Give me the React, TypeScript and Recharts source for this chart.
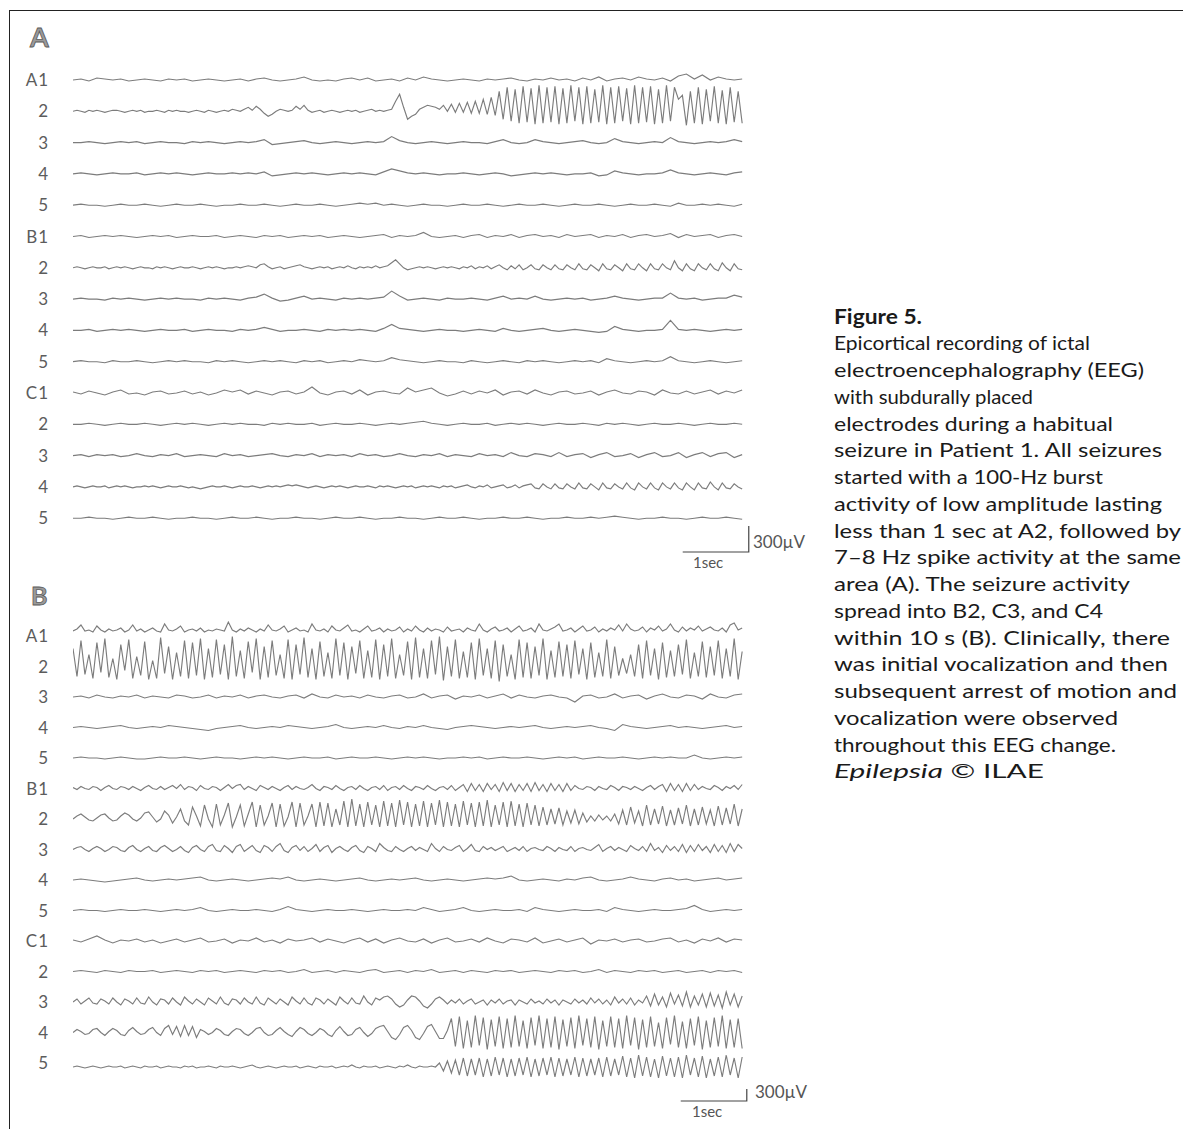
import { LineChart, Line, XAxis, YAxis } from "recharts";

// seconds of record shown per trace; x axis runs a little past it for the scale bar
const DURATION = 10.13;
const X_MAX = 10.4;

const CHANNELS = ["A1", "2", "3", "4", "5", "B1", "2", "3", "4", "5", "C1", "2", "3", "4", "5"];

// Panel A deflections, display units (26 u = 300 µV), positive = up
const A_A1 = [0,1,-1,2,1,0,1,-1,0,1,0,-1,1,0,1,-1,0,1,0,-1,0,1,-1,1,2,0,-1,0,1,3,0,-1,0,-1,1,2,0,2,-1,0,1,-1,2,0,3,1,0,-1,0,1,0,-1,1,0,1,2,0,-1,1,0,2,0,1,-1,2,0,3,-1,1,2,0,3,1,0,2,-1,4,6,1,5,0,3,1,0,1];
const A_A2 = [
  0,1,0,-1,1,0,1,0,-1,0,1,1,0,-1,0,1,0,1,-1,0,0,1,0,-1,1,0,1,0,0,-1,0,1,0,-1,1,0,-1,0,1,0,2,1,0,2,
  4,1,5,2,-2,-5,-3,0,2,1,0,1,
  5,2,6,1,-1,
  0,1,-1,0,1,0,-1,0,1,0,1,-1,0,1,2,0,1,0,1,2,
  10,17,4,-8,-5,-3,
  2,4,6,5,4,2,
  6,0,7,-1,8,-1,9,-2,10,-2,12,-3,14,-4,
  20,-8,24,-10,22,-12,25,-11,23,-13,26,-12,24,-11,25,-13,23,-12,26,-10,24,-13,25,-12,22,-11,26,-13,24,-12,25,-10,23,-13,26,-12,24,-11,25,-13,22,-12,26,-10,24,
  12,16,-14,20,-12,24,-13,22,-10,25,-12,21,-13,24,-11,20,-12,
];
const A_A3 = [0,0,1,0,-1,0,1,0,1,-1,0,1,0,0,-1,1,0,1,0,-1,0,1,0,1,3,-2,-1,0,1,2,0,-1,0,1,0,-1,0,1,0,1,6,2,0,-1,0,1,0,-1,0,1,0,0,-1,1,3,0,-1,0,3,1,0,-1,0,1,2,0,-1,0,4,1,0,-1,0,1,0,5,1,0,-1,0,1,0,1,3,1];
const A_A4 = [0,1,0,-1,0,1,0,0,1,-1,0,1,0,1,0,-1,0,1,0,0,1,0,1,0,2,-2,-1,0,1,0,1,0,-1,0,1,0,1,0,-1,2,5,3,1,0,1,0,-1,0,0,1,0,-1,0,1,0,-2,-1,0,1,0,1,0,-1,0,0,1,-2,-1,3,1,0,-1,0,0,1,4,1,0,-1,0,1,0,-1,1,2];
const A_A5 = [0,1,0,0,-1,0,1,0,0,1,0,-1,0,1,0,0,1,0,-1,0,0,1,0,0,1,0,-1,0,1,0,0,1,0,-1,0,1,2,1,2,0,1,0,-1,0,1,0,0,-1,0,1,0,0,1,0,-1,0,1,0,0,1,0,-1,0,1,0,0,1,0,-1,0,1,0,0,1,0,-1,2,0,0,1,0,1,0,-1,1];
const A_B1 = [0,1,-1,0,1,0,1,0,-1,0,1,0,1,-1,0,1,0,0,1,-1,0,1,0,-1,1,0,1,-1,0,1,0,1,-1,0,1,0,-1,0,1,2,-1,1,0,1,4,0,-1,0,1,-1,1,2,-1,1,0,2,-1,1,2,0,1,-1,2,0,1,2,-1,1,0,2,-1,1,2,0,1,3,-1,2,0,1,2,-1,1,2,0];
const A_B2 = [
  0,1,0,-1,0,1,0,0,1,-1,0,1,0,1,0,-1,0,1,0,0,-1,1,0,1,0,-1,0,1,0,0,1,0,-1,0,1,0,1,0,-1,0,0,1,0,1,2,1,0,
  3,4,1,-1,
  0,1,-1,0,1,2,
  3,1,0,-1,
  0,1,0,1,-1,0,1,0,2,0,-1,1,0,1,0,2,0,1,2,
  5,8,4,0,-2,-1,0,
  1,0,1,0,-1,0,1,0,1,0,-1,1,0,2,-1,1,0,2,-1,1,
  3,0,-2,2,-1,3,-2,0,3,-1,-2,3,0,-2,3,-1,-2,3,0,-2,4,-1,-2,3,0,-3,4,-1,-2,3,0,-3,4,-1,-2,4,0,-3,4,-1,-2,4,0,-2,7,0,-3,4,-1,-3,4,0,-2,4,-1,-3,5,0,-3,4,-1,-2,
];
const A_B3 = [0,1,0,0,-1,1,0,1,0,-1,0,1,0,1,0,0,-1,1,0,1,0,-1,1,2,5,1,-2,-1,1,3,0,1,0,-1,1,0,1,0,1,2,8,3,-1,0,1,0,-1,1,0,0,1,0,-1,1,3,0,1,0,3,0,-1,0,1,0,1,-1,0,1,3,1,0,-1,0,1,1,6,1,0,1,-1,0,1,1,4,2];
const A_B4 = [0,0,1,-1,0,1,0,1,0,-1,0,1,0,0,1,-1,0,1,0,0,-1,1,0,1,3,1,-1,0,0,1,0,-1,1,0,1,0,1,0,-1,2,6,2,1,0,-1,0,1,0,0,-1,0,1,0,-1,2,0,-1,0,1,2,0,-1,0,1,0,-1,-2,-1,4,1,0,-1,0,0,1,10,1,0,1,0,-1,0,1,0,1];
const A_B5 = [0,1,0,0,-1,1,0,0,1,0,-1,0,1,0,1,0,0,-1,1,0,1,0,-1,0,1,0,1,0,-1,1,0,1,-1,0,1,0,2,1,0,1,4,2,1,0,-1,0,1,0,0,-1,1,0,-1,0,1,0,-1,1,0,1,0,-1,0,1,0,1,-1,3,1,0,-1,0,1,0,1,5,1,0,-1,0,1,0,-1,0,1];
const A_C1 = [1,-1,2,0,-2,1,3,-1,0,-2,1,2,-1,0,2,-1,1,-2,0,3,1,3,-1,2,0,-2,1,2,-1,1,6,0,-2,1,2,-1,3,-2,1,2,0,-1,5,1,3,5,0,-3,-1,2,-1,2,0,3,-2,1,2,-1,3,0,-2,1,2,-1,0,2,-2,1,3,0,-1,2,1,-2,3,0,-1,2,-1,1,3,-1,2,0,3];
const A_C2 = [0,0,1,0,-1,0,1,0,0,1,0,-1,0,1,0,1,0,-1,0,1,0,1,0,0,-1,1,0,1,0,0,1,-1,0,1,0,0,1,0,-1,0,1,0,1,2,3,1,0,-1,0,1,0,0,1,-1,0,1,0,1,0,-1,0,1,0,0,1,0,-1,1,0,1,0,-1,0,1,0,0,1,0,-1,0,1,0,0,1,0];
const A_C3 = [0,1,-1,1,0,1,-1,0,2,0,-1,1,0,2,-1,0,1,0,-1,2,0,1,-1,0,1,2,0,-1,1,0,2,-1,1,0,1,-1,2,0,1,-1,0,2,0,-1,1,0,2,-1,1,0,-1,2,0,1,-1,3,0,-1,2,1,-1,3,-1,1,2,-2,1,3,-1,0,2,-2,1,3,-1,0,3,-2,1,3,-1,2,3,-2,1];
const A_C4 = [
  0,1,0,-1,0,1,0,0,1,-1,0,1,0,1,0,-1,0,0,1,0,1,0,-1,0,1,0,0,1,0,-1,0,-1,-2,-1,0,1,0,0,1,0,
  -1,0,1,0,0,1,0,-1,0,1,0,1,0,1,2,1,2,1,0,-1,0,1,0,-1,0,1,0,1,0,-1,0,1,0,0,1,0,-1,1,0,1,
  0,-1,0,1,0,1,-1,0,1,0,1,0,-1,1,0,1,-1,0,1,2,0,-1,1,0,2,-1,0,1,2,-1,0,2,-1,1,2,
  3,-1,-2,3,0,-2,3,-1,-2,3,0,-2,4,-1,-2,3,0,-3,4,-1,-2,3,0,-2,4,-1,-3,4,0,-2,4,-1,-3,4,0,-2,4,-1,-3,4,
  0,-3,4,-1,-2,5,0,-3,4,-1,-2,3,0,-2,
];
const A_C5 = [0,0,1,0,0,-1,0,1,0,0,1,0,-1,0,0,1,0,0,-1,0,1,0,0,1,0,-1,0,0,1,0,0,-1,0,1,0,0,1,0,-1,0,0,1,0,0,-1,0,1,0,0,1,0,-1,0,0,1,0,0,1,0,-1,0,0,1,0,0,1,0,1,2,1,0,-1,0,0,1,0,0,-1,0,1,0,0,1,0,-1];

// Panel B deflections, display units (12 u = 300 µV), positive = up
const B_A1 = [
  5,7,11,5,6,4,10,6,4,7,5,6,8,4,6,11,5,7,4,6,
  8,5,4,12,6,5,7,10,4,6,7,5,8,4,6,5,7,6,5,14,
  6,4,7,5,8,6,4,7,5,11,6,5,7,10,4,6,8,5,6,4,
  12,6,5,7,4,10,6,5,8,11,5,6,4,7,10,5,6,8,4,7,
  5,6,9,4,7,5,10,6,4,8,5,7,6,4,9,5,6,7,4,8,
  6,5,12,6,4,7,9,5,6,8,4,7,10,5,6,8,4,12,6,5,
  7,9,12,5,6,8,4,7,10,5,6,9,4,7,5,8,6,11,5,12,
  7,5,6,9,4,8,6,10,5,7,12,6,4,9,5,8,6,10,5,7,
  9,6,5,8,4,11,13,6,8,
];
const B_A2 = [
  18,-10,26,-8,12,-12,24,-6,28,-11,8,-13,22,-4,27,-12,10,-9,25,-13,
  6,-12,29,-7,20,-13,14,-10,26,-12,24,-9,28,-13,18,-11,27,-8,22,-13,
  30,-10,16,-12,25,-6,28,-13,20,-11,26,-9,12,-12,27,-13,22,-8,29,-11,
  18,-13,25,-10,14,-12,28,-9,24,-13,20,-7,26,-12,16,-11,27,-13,22,-10,
  28,-12,12,-9,25,-13,29,-11,18,-12,26,-8,30,-14,20,-10,27,-12,15,-11,
  24,-13,28,-9,18,-12,26,-15,22,-10,12,-13,27,-11,24,-12,20,-9,28,-13,
  16,-11,25,-10,22,-12,26,-8,18,-13,24,-11,14,-10,27,-12,20,-9,8,-7,
  12,-10,22,-12,26,-9,18,-13,24,-11,16,-10,22,-8,27,-12,14,-10,25,-11,
  20,-9,26,-12,18,-10,28,-13,15,
];
const B_A3 = [0,1,-1,2,0,-1,1,0,2,-1,1,0,-1,2,1,-1,0,2,-1,1,0,2,-1,1,2,0,-1,1,2,-1,3,0,-1,2,0,1,-1,2,0,-1,1,2,-1,0,3,-1,1,2,-2,1,0,2,-1,1,3,-1,2,0,-1,1,2,0,-1,-5,1,2,-1,0,3,-1,1,2,-2,1,3,0,-1,2,1,-2,3,0,-1,2,3];
const B_A4 = [0,1,0,-1,0,1,2,0,-1,0,1,0,2,1,0,-1,-2,-3,-1,0,1,2,0,-1,0,1,0,2,1,0,-1,0,1,3,0,-1,0,1,0,2,0,-1,1,0,2,0,-1,-2,0,1,2,1,0,-1,0,1,0,1,2,0,-1,0,1,0,1,2,0,-1,-3,3,1,0,-1,0,1,2,0,1,0,-1,0,1,2,0,1];
const B_A5 = [0,1,0,0,-1,0,1,0,-1,-1,0,1,0,0,1,0,-1,0,1,0,0,-1,0,1,0,1,0,-1,0,1,0,0,1,-1,0,1,0,0,1,0,-1,0,1,0,1,0,-1,0,0,1,0,1,-1,0,1,0,0,1,0,-1,0,1,0,1,-1,0,1,0,0,1,0,-1,0,1,0,1,0,0,3,0,-1,0,1,0,1];
const B_B1 = [
  1,-1,2,0,-1,2,1,-2,1,3,0,-1,2,1,-1,2,0,-2,1,3,
  0,-1,2,-1,1,3,0,4,-1,2,1,-2,3,0,-1,2,1,-2,1,4,
  0,3,4,-1,2,0,-2,3,1,-1,2,0,-2,1,3,-1,2,0,-1,1,
  4,0,-2,2,1,-1,3,0,-2,1,2,-1,3,0,-2,1,2,-1,3,-2,
  1,2,-1,3,0,-2,2,1,-1,3,0,-2,1,2,-1,3,-2,1,4,-3,
  5,-2,4,-3,5,-1,4,-3,6,-2,5,-3,4,-2,5,-3,6,-2,4,-3,
  5,-2,4,-3,5,-2,3,0,-1,2,1,-2,2,0,-1,3,1,-2,2,1,
  -1,2,0,-2,1,3,-1,2,4,-3,5,-2,4,-3,5,-2,4,-1,2,0,
  -1,3,1,-2,2,0,3,-1,4,
];
const B_B2 = [
  0,3,5,2,-1,-2,1,4,5,1,-2,-1,3,6,4,0,-2,1,6,7,2,-3,0,8,4,
  -4,2,10,-2,-6,12,3,-7,14,0,-8,15,-6,4,16,-8,2,14,-7,5,17,-8,14,-6,3,16,-8,15,-7,2,17,-8,16,-6,3,15,
  -8,17,-7,16,-8,10,-6,18,-8,20,-7,15,-8,17,-6,14,-8,18,-7,16,
  -8,19,-6,17,-8,15,-7,18,-8,16,-6,19,-8,17,-7,15,-8,18,-6,16,
  -8,17,-7,19,-8,14,-6,17,-8,18,-7,15,-8,16,-6,14,-7,12,-6,10,
  -5,11,-6,8,-4,9,-5,6,-3,
  3,-2,4,-1,3,-2,5,
  -5,9,-6,12,-4,8,-7,14,-6,10,-5,13,-7,9,-6,11,-5,14,-7,10,-6,12,-5,9,-7,13,-6,11,-5,15,-7,10,
];
const B_B3 = [
  0,2,3,0,-2,1,3,1,-2,0,3,2,-1,-2,2,4,0,-2,1,3,
  -1,-2,2,4,1,-2,0,3,-1,-3,2,4,0,-2,3,5,-1,-2,4,1,
  -3,3,5,-2,1,4,-1,-3,4,2,-2,3,6,-1,-3,2,4,-1,3,-2,
  1,5,-2,2,4,-3,1,3,0,-2,2,4,-1,-3,3,1,-2,6,2,-1,
  -2,3,0,-2,1,3,-1,2,0,-2,6,1,-2,3,0,-1,2,4,-2,1,
  5,-1,-2,3,0,2,-1,1,3,-2,0,2,-1,3,-2,1,2,0,-1,3,
  1,-2,2,0,-1,3,-2,1,2,0,-1,2,5,-2,1,3,-1,2,0,-2,
  4,1,-1,3,-2,6,-1,2,-3,4,-1,3,-2,5,-3,4,-2,5,-1,3,
  -3,5,-2,4,-3,6,-2,5,1,
];
const B_B4 = [0,1,0,-1,-2,-1,0,1,2,0,-1,0,1,0,1,2,3,0,-1,0,1,0,-1,0,1,2,1,3,0,-1,0,1,0,-1,0,1,2,0,-1,0,1,0,1,2,0,-1,0,1,0,-1,0,1,2,1,2,4,0,-1,0,1,0,-1,1,0,2,3,0,-1,0,1,3,1,0,-1,1,2,0,1,-1,0,1,2,0,1,2];
const B_B5 = [0,1,0,0,-1,0,1,0,0,1,0,-1,0,1,0,1,3,0,-1,0,1,0,0,1,0,-1,1,4,1,0,-1,0,1,0,0,1,0,-1,0,1,0,0,1,0,3,1,-1,0,1,3,0,-1,0,1,0,0,1,-1,3,1,0,-1,0,1,0,0,1,-1,3,1,0,-1,0,1,0,0,1,2,5,1,-1,0,1,0,1];
const B_C1 = [1,-1,2,5,1,-2,1,0,2,-1,1,-2,0,2,-1,1,3,-1,0,2,-2,1,0,3,-1,1,-2,2,0,1,3,-1,2,0,-2,1,3,-1,2,-2,1,3,0,-1,2,-2,1,3,-1,0,2,-1,3,0,-2,2,1,-1,3,-2,0,2,-1,1,3,-3,1,0,2,-1,1,2,-1,0,2,3,-1,1,-2,2,0,3,-1,2,1];
const B_C2 = [0,1,0,-1,1,0,-1,1,0,0,1,-1,0,1,0,-1,1,0,1,-1,0,1,0,-1,1,0,1,-1,0,2,-1,0,1,-1,1,0,-1,1,2,-1,0,1,-1,1,0,2,-1,0,1,-1,1,0,-1,1,0,1,-1,0,1,0,-1,1,0,1,-1,0,2,-1,1,0,-1,1,0,1,-1,0,1,-1,0,1,-1,1,0,1,-1];
const B_C3 = [
  0,3,-2,1,4,-1,-2,3,1,-2,4,0,-3,3,1,-2,4,-1,-2,5,0,-3,3,2,-2,4,0,-3,5,1,-2,3,0,-3,4,1,-2,5,-1,-3,
  3,2,-2,4,0,-2,5,-1,-3,4,1,-2,3,0,-3,5,1,-2,4,-1,-3,4,2,-2,3,0,-3,5,1,-2,4,-1,-2,6,0,-3,4,
  2,5,6,3,-2,-5,-3,2,6,5,1,-4,-6,-2,3,5,2,
  -2,2,-1,3,-2,1,3,-2,0,2,-3,2,-1,3,-2,1,2,-3,2,0,-2,3,-1,1,-2,3,-1,2,-3,2,0,-2,3,-1,2,-2,4,-1,3,-2,2,-3,5,-1,3,-2,4,-3,2,-1,
  6,-4,8,-3,5,-5,9,-2,7,-4,10,-5,6,-3,8,-5,9,-4,7,-6,10,-3,8,-5,6,
];
const B_C4 = [
  0,3,1,-2,-1,3,4,0,-3,1,4,2,-2,-3,2,5,1,-2,-1,3,5,0,-3,
  4,7,-2,6,-4,7,-3,6,-5,3,
  1,-2,0,4,2,-2,-3,1,4,3,-1,-3,0,4,5,0,-3,-2,2,5,1,-2,-4,1,5,3,-1,-3,0,4,2,-2,-4,2,6,1,-3,-2,3,5,0,-4,-1,4,
  6,7,1,-5,-7,-2,5,7,2,-5,-7,-1,6,8,1,-6,-6,2,
  14,-14,16,-16,12,-15,17,-13,15,-17,13,-14,16,-16,14,-15,17,-14,12,-16,
  15,-13,17,-16,14,-15,16,-17,13,-14,15,-16,17,-13,14,-15,16,-17,12,-14,
  16,-15,14,-16,17,-13,15,-17,13,-15,16,-14,10,-16,15,-12,17,-15,11,-16,
  14,-13,16,-17,12,-15,15,-14,17,-16,13,-15,14,-16,
];
const B_C5 = [
  -4,-3,-4,-5,-4,-3,-4,-5,-4,-3,-4,-4,-3,-5,-4,-3,-4,-5,-3,-4,-4,-3,-5,-4,-3,-4,-4,-5,-3,-4,
  -3,-5,-4,-4,-3,-4,-5,-3,-4,-4,-3,-4,-5,-4,-3,-2,-4,-5,-4,-3,-4,-5,-4,-3,-4,-4,-3,-5,-4,-3,
  -4,-5,-3,-4,-4,-3,-5,-4,-3,-4,-2,-4,-5,-3,-4,-4,-3,-5,-4,-3,-4,-5,-3,-4,-2,-4,-5,-3,-4,-4,
  -3,-4,
  0,-8,2,-10,3,-12,5,-13,4,-12,5,-14,4,-13,6,-12,5,-14,4,-13,
  5,-12,6,-14,4,-13,5,-12,6,-14,5,-13,4,-12,6,-14,5,-13,4,-12,
  5,-14,6,-13,4,-12,7,-14,5,-15,8,-13,6,-14,4,-15,7,-13,5,-14,
  6,-15,8,-12,5,-14,7,-15,4,-13,6,-14,8,-12,5,-15,6,
];

const PANEL_A = [A_A1, A_A2, A_A3, A_A4, A_A5, A_B1, A_B2, A_B3, A_B4, A_B5, A_C1, A_C2, A_C3, A_C4, A_C5];
const PANEL_B = [B_A1, B_A2, B_A3, B_A4, B_A5, B_B1, B_B2, B_B3, B_B4, B_B5, B_C1, B_C2, B_C3, B_C4, B_C5];

// calibration: 1 sec horizontal, 300 µV vertical (in each panel's display units)
const SCALE_SEC = 1;
const SCALE_UNITS_A = 26;
const SCALE_UNITS_B = 12;

const CAPTION = [
  "Epicortical recording of ictal",
  "electroencephalography (EEG)",
  "with subdurally placed",
  "electrodes during a habitual",
  "seizure in Patient 1. All seizures",
  "started with a 100-Hz burst",
  "activity of low amplitude lasting",
  "less than 1 sec at A2, followed by",
  "7–8 Hz spike activity at the same",
  "area (A). The seizure activity",
  "spread into B2, C3, and C4",
  "within 10 s (B). Clinically, there",
  "was initial vocalization and then",
  "subsequent arrest of motion and",
  "vocalization were observed",
  "throughout this EEG change.",
];
const CAPTION_WIDTHS = [256, 310, 199, 279, 328, 269, 328, 347, 347, 296, 269, 336, 334, 343, 284, 282];

const FONT = "Lato, 'Open Sans', sans-serif";
const TRACE = "#7c7c7c";

function toTrace(values: number[], row: number, gap: number) {
  return values.map((d, k) => ({ t: (k * DURATION) / (values.length - 1), v: -row * gap + d }));
}

interface PanelProps {
  traces: number[][];
  gap: number;
  top: number;
  height: number;
  marginTop: number;
  marginBottom: number;
  domain: [number, number];
  scaleAt: { t: number; v: number };
  scaleUnits: number;
}

function Panel({ traces, gap, top, height, marginTop, marginBottom, domain, scaleAt, scaleUnits }: PanelProps) {
  const ticks = CHANNELS.map((_, i) => -i * gap);
  const bar = [
    { t: scaleAt.t, v: scaleAt.v },
    { t: scaleAt.t + SCALE_SEC, v: scaleAt.v },
    { t: scaleAt.t + SCALE_SEC, v: scaleAt.v + scaleUnits },
  ];
  return (
    <div style={{ position: "absolute", left: 0, top }}>
      <LineChart width={760} height={height} margin={{ top: marginTop, right: 0, bottom: marginBottom, left: 0 }}>
        <XAxis type="number" dataKey="t" domain={[0, X_MAX]} hide allowDataOverflow />
        <YAxis
          type="number"
          domain={domain}
          ticks={ticks}
          interval={0}
          width={73}
          axisLine={false}
          tickLine={false}
          tickSize={0}
          tickMargin={24}
          allowDataOverflow
          tick={(p: any) => (
            <text x={p.x} y={p.y} dy={6} textAnchor="end" fontFamily={FONT} fontSize={17} fill="#5c5c5c" letterSpacing={1}>
              {CHANNELS[Math.round(-p.payload.value / gap)]}
            </text>
          )}
        />
        {traces.map((vals, i) => (
          <Line
            key={i}
            data={toTrace(vals, i, gap)}
            dataKey="v"
            type="linear"
            stroke={TRACE}
            strokeWidth={1.15}
            dot={false}
            isAnimationActive={false}
          />
        ))}
        <Line data={bar} dataKey="v" type="linear" stroke="#444" strokeWidth={1.2} dot={false} isAnimationActive={false} />
      </LineChart>
    </div>
  );
}

export default function App() {
  return (
    <div style={{ position: "absolute", left: 0, top: 0, width: 1183, height: 1129, background: "#fff", overflow: "hidden" }}>
      <div style={{ position: "absolute", left: 9, top: 10, width: 1174, height: 1119, borderLeft: "1.5px solid #222", borderTop: "1.5px solid #222" }} />
      <Panel
        traces={PANEL_A}
        gap={31.3}
        top={0}
        height={600}
        marginTop={35}
        marginBottom={30}
        domain={[-490, 45]}
        scaleAt={{ t: 9.23, v: -472 }}
        scaleUnits={SCALE_UNITS_A}
      />
      <Panel
        traces={PANEL_B}
        gap={30.5}
        top={575}
        height={554}
        marginTop={20}
        marginBottom={9}
        domain={[-484, 41]}
        scaleAt={{ t: 9.2, v: -465 }}
        scaleUnits={SCALE_UNITS_B}
      />
      <svg width={1183} height={1129} style={{ position: "absolute", left: 0, top: 0, pointerEvents: "none" }}>
        <g fontFamily={FONT}>
          <text x={30} y={47} fontSize={27} fontWeight="bold" fill="#9a9a9a" stroke="#5a5a5a" strokeWidth={0.8}>A</text>
          <text x={31} y={605} fontSize={25} fontWeight="bold" fill="#9a9a9a" stroke="#5a5a5a" strokeWidth={0.8}>B</text>
          <text x={753} y={548} fontSize={17} fill="#555">300µV</text>
          <text x={693} y={568} fontSize={15} fill="#555">1sec</text>
          <text x={755} y={1098} fontSize={17} fill="#555">300µV</text>
          <text x={692} y={1117} fontSize={15} fill="#555">1sec</text>
          <text x={834} y={323.5} fontSize={20} fontWeight="bold" fill="#1a1a1a" textLength={88} lengthAdjust="spacingAndGlyphs">
            Figure 5.
          </text>
          {CAPTION.map((line, i) => (
            <text
              key={i}
              x={834}
              y={323.5 + 26.75 * (i + 1)}
              fontSize={20}
              fill="#1a1a1a"
              textLength={CAPTION_WIDTHS[i]}
              lengthAdjust="spacingAndGlyphs"
            >
              {line}
            </text>
          ))}
          <text x={834} y={323.5 + 26.75 * 17} fontSize={20} fill="#1a1a1a" textLength={210} lengthAdjust="spacingAndGlyphs">
            <tspan fontStyle="italic">Epilepsia</tspan> © ILAE
          </text>
        </g>
      </svg>
    </div>
  );
}
